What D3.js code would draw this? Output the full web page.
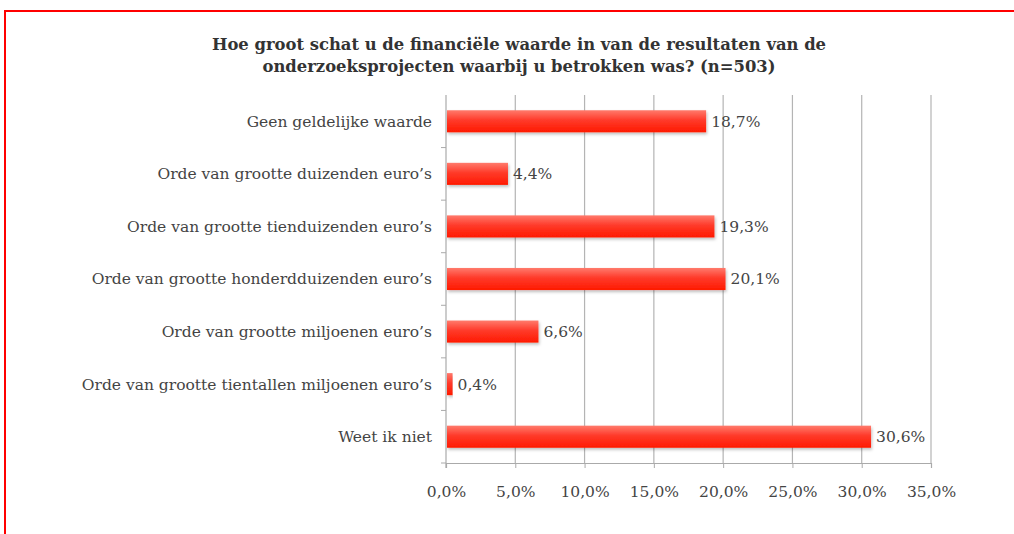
<!DOCTYPE html>
<html>
<head>
<meta charset="utf-8">
<script src="https://cdn.jsdelivr.net/npm/d3@7"></script>
<style>
    body { margin: 0; background: #fff; }
    svg { display: block; }
    .axis text { font-family: "DejaVu Serif", Georgia, serif; font-size: 15.5px; fill: #444; }
</style>
</head>
<body>
<div id="chart"></div>
<script>
/*************************************************
    Data:
 *************************************************/
var categories = [
    "Geen geldelijke waarde",
    "Orde van grootte duizenden euro’s",
    "Orde van grootte tienduizenden euro’s",
    "Orde van grootte honderdduizenden euro’s",
    "Orde van grootte miljoenen euro’s",
    "Orde van grootte tientallen miljoenen euro’s",
    "Weet ik niet"
];
var values = [18.7, 4.4, 19.3, 20.1, 6.6, 0.4, 30.6];
var xTicks = [0, 5, 10, 15, 20, 25, 30, 35];
var titleLines = [
    "Hoe groot schat u de financiële waarde in van de resultaten van de",
    "onderzoeksprojecten waarbij u betrokken was? (n=503)"
];

/*************************************************
    Drawing:
 *************************************************/
var width = 1014, height = 534;
var svg = d3.select("#chart").append("svg")
    .attr("width", width)
    .attr("height", height);

var fmt = function(v) { return v.toFixed(1).replace(".", ",") + "%"; };

var defs = svg.append("defs");
var grad = defs.append("linearGradient")
    .attr("id", "barGrad")
    .attr("x1", 0).attr("y1", 0).attr("x2", 0).attr("y2", 1);
grad.append("stop").attr("offset", "0%").attr("stop-color", "#ff7a6c");
grad.append("stop").attr("offset", "45%").attr("stop-color", "#ff3a2a");
grad.append("stop").attr("offset", "100%").attr("stop-color", "#ff1a00");

var shadow = defs.append("filter").attr("id", "shadow")
    .attr("x", "-5%").attr("y", "-20%").attr("width", "110%").attr("height", "160%");
shadow.append("feDropShadow")
    .attr("dx", 1).attr("dy", 2).attr("stdDeviation", 1.5)
    .attr("flood-color", "#000").attr("flood-opacity", 0.25);

// red frame
svg.append("line").attr("x1", 5).attr("y1", 11).attr("x2", width).attr("y2", 11)
    .attr("stroke", "#ff0000").attr("stroke-width", 2);
svg.append("line").attr("x1", 5).attr("y1", 10).attr("x2", 5).attr("y2", height)
    .attr("stroke", "#ff0000").attr("stroke-width", 2);

var plotLeft = 446, plotRight = 931, plotTop = 95, plotBottom = 463;

var x = d3.scaleLinear().domain([0, 35]).range([plotLeft, plotRight]);
var y = d3.scaleBand().domain(categories).range([plotTop, plotBottom]).paddingInner(0.58).paddingOuter(0.29);

// title
svg.append("text")
    .attr("x", 519).attr("y", 50)
    .attr("text-anchor", "middle")
    .style("font-family", "'DejaVu Serif', Georgia, serif")
    .style("font-weight", "bold")
    .style("font-size", "16.4px")
    .style("fill", "#333")
    .selectAll("tspan")
    .data(titleLines)
    .enter().append("tspan")
    .attr("x", 519)
    .attr("dy", function(d, i) { return i === 0 ? 0 : 22; })
    .text(function(d) { return d; });

// grid
svg.append("g").selectAll("line")
    .data(xTicks.slice(1))
    .enter().append("line")
    .attr("x1", function(d) { return x(d); })
    .attr("x2", function(d) { return x(d); })
    .attr("y1", plotTop).attr("y2", plotBottom)
    .attr("stroke", "#b4b4b4").attr("stroke-width", 1.2);

// x axis
var xAxis = svg.append("g").attr("class", "axis")
    .attr("transform", "translate(0," + plotBottom + ")")
    .call(d3.axisBottom(x).tickValues(xTicks).tickSize(5).tickPadding(18).tickFormat(fmt));
xAxis.select(".domain").attr("stroke", "#aaa").attr("stroke-width", 1.2);
xAxis.selectAll(".tick line").attr("stroke", "#aaa");

// y axis
var bandEdges = categories.map(function(c) { return y(c) - y.step() * y.paddingInner() / 2; });
var yAxis = svg.append("g").attr("class", "axis");
yAxis.append("line")
    .attr("x1", plotLeft).attr("x2", plotLeft).attr("y1", plotTop).attr("y2", plotBottom + 5)
    .attr("stroke", "#aaa").attr("stroke-width", 1.2);
yAxis.selectAll(".ytick")
    .data(bandEdges.slice(1).concat([plotBottom]))
    .enter().append("line")
    .attr("x1", plotLeft - 5).attr("x2", plotLeft)
    .attr("y1", function(d) { return d; }).attr("y2", function(d) { return d; })
    .attr("stroke", "#aaa");
yAxis.selectAll(".ylabel")
    .data(categories)
    .enter().append("text")
    .attr("x", plotLeft - 14)
    .attr("y", function(d) { return y(d) + y.bandwidth() / 2; })
    .attr("dy", "0.35em")
    .attr("text-anchor", "end")
    .text(function(d) { return d; });

// bars
svg.append("g").selectAll("rect")
    .data(values)
    .enter().append("rect")
    .attr("x", x(0) + 1)
    .attr("y", function(d, i) { return y(categories[i]); })
    .attr("width", function(d) { return x(d) - x(0); })
    .attr("height", y.bandwidth())
    .attr("fill", "url(#barGrad)")
    .attr("filter", "url(#shadow)");

// value labels
svg.append("g").attr("class", "axis").selectAll("text")
    .data(values)
    .enter().append("text")
    .attr("x", function(d) { return x(d) + 6; })
    .attr("y", function(d, i) { return y(categories[i]) + y.bandwidth() / 2; })
    .attr("dy", "0.35em")
    .text(fmt);
</script>
</body>
</html>
